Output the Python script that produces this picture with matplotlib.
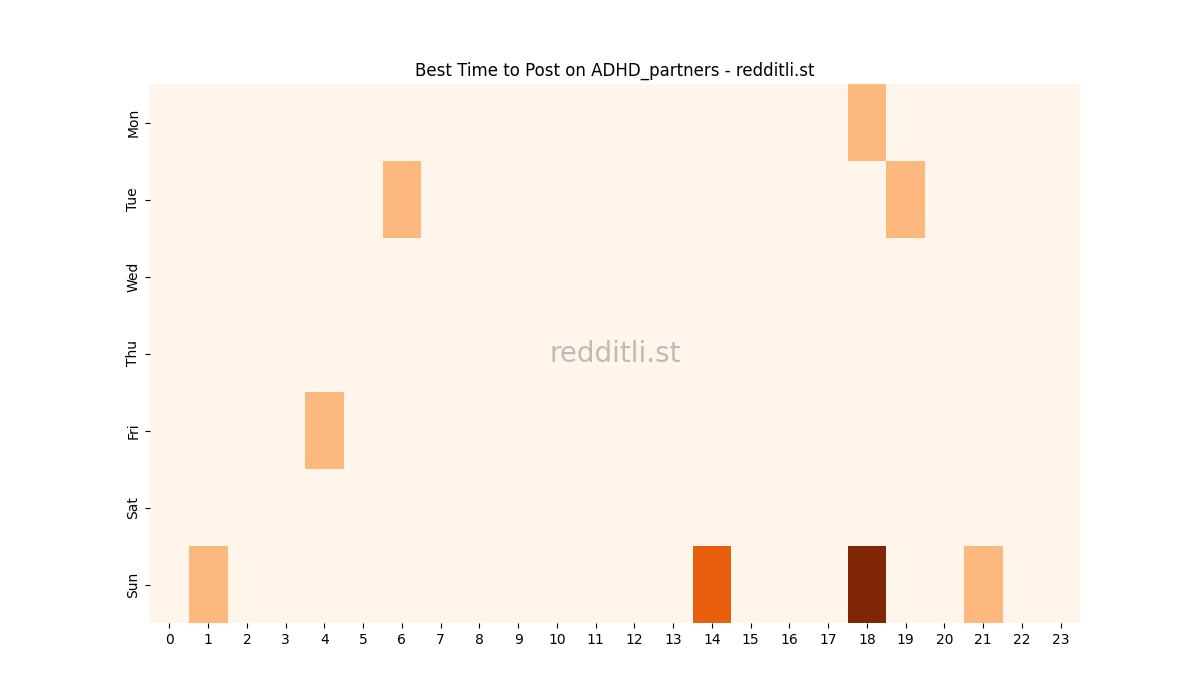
import numpy as np
import matplotlib
matplotlib.use("Agg")
import matplotlib.pyplot as plt
import seaborn as sns

days = ["Mon", "Tue", "Wed", "Thu", "Fri", "Sat", "Sun"]
hours = list(range(24))

# post counts per (day, hour)
mon = [0]*18 + [1] + [0]*5
tue = [0]*6 + [1] + [0]*12 + [1] + [0]*4
wed = [0]*24
thu = [0]*24
fri = [0]*4 + [1] + [0]*19
sat = [0]*24
sun = [0, 1] + [0]*12 + [2] + [0]*3 + [3] + [0]*2 + [1] + [0]*2

data = np.array([mon, tue, wed, thu, fri, sat, sun])

fig = plt.figure(figsize=(12, 7), dpi=100)
ax = fig.add_subplot(111)
sns.heatmap(data, cmap="Oranges", cbar=False, ax=ax,
            xticklabels=hours, yticklabels=days)
ax.set_title("Best Time to Post on ADHD_partners - redditli.st")
ax.text(0.5, 0.5, "redditli.st", transform=ax.transAxes, fontsize=20,
        color="gray", alpha=0.5, ha="center", va="center")
fig.savefig("out.png")
